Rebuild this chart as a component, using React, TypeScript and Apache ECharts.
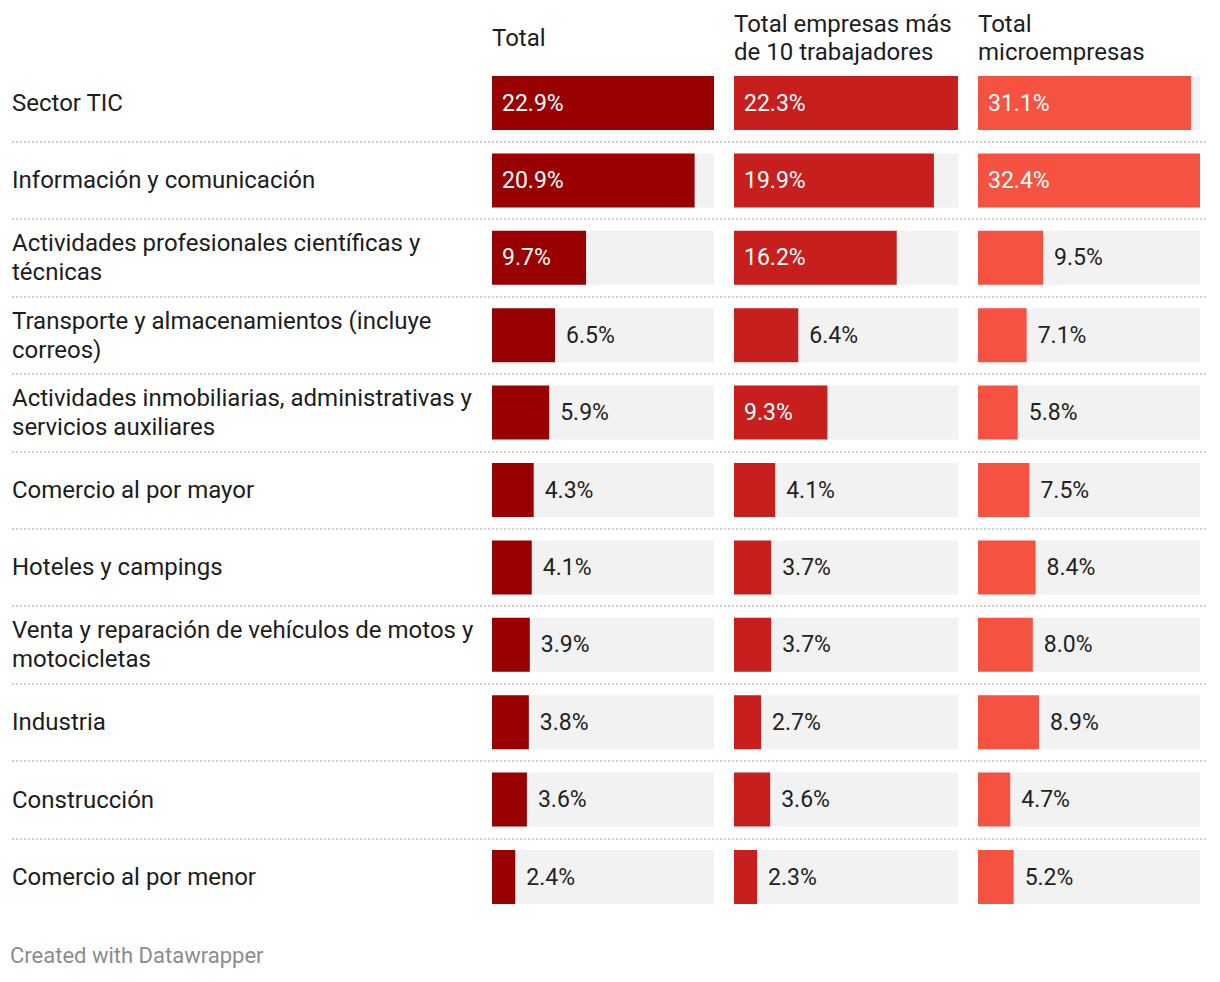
import React, { useEffect, useRef } from "react";
import * as echarts from "echarts";

const categories = [
  "Sector TIC",
  "Información y comunicación",
  "Actividades profesionales científicas y técnicas",
  "Transporte y almacenamientos (incluye correos)",
  "Actividades inmobiliarias, administrativas y servicios auxiliares",
  "Comercio al por mayor",
  "Hoteles y campings",
  "Venta y reparación de vehículos de motos y motocicletas",
  "Industria",
  "Construcción",
  "Comercio al por menor",
];

const totalValues = [22.9, 20.9, 9.7, 6.5, 5.9, 4.3, 4.1, 3.9, 3.8, 3.6, 2.4];
const bigCompanyValues = [22.3, 19.9, 16.2, 6.4, 9.3, 4.1, 3.7, 3.7, 2.7, 3.6, 2.3];
const microValues = [31.1, 32.4, 9.5, 7.1, 5.8, 7.5, 8.4, 8.0, 8.9, 4.7, 5.2];

const columnHeaders = ["Total", "Total empresas más\nde 10 trabajadores", "Total\nmicroempresas"];
const footerText = "Created with Datawrapper";

const columns = [
  { values: totalValues, color: "#990000", left: 492, width: 222 },
  { values: bigCompanyValues, color: "#c71e1e", left: 734, width: 224 },
  { values: microValues, color: "#f65242", left: 978, width: 222 },
];

const FONT = "Roboto, 'Noto Sans', sans-serif";
const GRID_TOP = 64.3;
const GRID_HEIGHT = 851.4;

export default function App() {
  const ref = useRef<HTMLDivElement>(null);

  useEffect(() => {
    if (!ref.current) return;
    const chart = echarts.init(ref.current, undefined, { renderer: "svg" });

    const grids: any[] = [
      { left: 12, width: 1195, top: GRID_TOP, height: GRID_HEIGHT, containLabel: false },
    ];
    const xAxes: any[] = [
      { gridIndex: 0, type: "value", show: false, min: 0, max: 1 },
    ];
    const yAxes: any[] = [
      {
        gridIndex: 0,
        type: "category",
        data: categories,
        inverse: true,
        axisLine: { show: false },
        axisTick: { show: false },
        axisLabel: {
          align: "left",
          margin: 0,
          color: "#1d1d1d",
          fontFamily: FONT,
          fontSize: 24,
          lineHeight: 29,
          width: 502,
          overflow: "break",
          interval: 0,
        },
        splitLine: {
          show: true,
          interval: 0,
          showMinLine: false,
          showMaxLine: false,
          lineStyle: { color: "#cfcfcf", width: 2, type: [2, 2] },
        },
      },
    ];
    const series: any[] = [];

    columns.forEach((col, i) => {
      const gi = i + 1;
      const max = Math.max(...col.values);
      grids.push({ left: col.left, width: col.width, top: GRID_TOP, height: GRID_HEIGHT });
      xAxes.push({ gridIndex: gi, type: "value", min: 0, max, show: false });
      yAxes.push({
        gridIndex: gi,
        type: "category",
        data: categories,
        inverse: true,
        show: false,
      });
      series.push({
        type: "bar",
        xAxisIndex: gi,
        yAxisIndex: gi,
        barWidth: 54,
        showBackground: true,
        backgroundStyle: { color: "#f2f2f2" },
        itemStyle: { color: col.color },
        data: col.values.map((v) => {
          const inside = v / max > 0.35;
          return {
            value: v,
            label: {
              show: true,
              position: inside ? "insideLeft" : "right",
              distance: inside ? 10 : 11,
              color: inside ? "#ffffff" : "#222222",
              fontFamily: FONT,
              fontSize: 23,
              formatter: (p: any) => p.value.toFixed(1) + "%",
            },
          };
        }),
      });
    });

    const graphics: any[] = columnHeaders.map((h, i) => {
      const lines = h.split("\n").length;
      return {
        type: "text",
        left: columns[i].left,
        top: lines === 1 ? 24 : 10,
        style: {
          text: h,
          fill: "#1d1d1d",
          font: `24px ${FONT}`,
          lineHeight: 28,
        },
      };
    });
    graphics.push({
      type: "text",
      left: 10,
      top: 944,
      style: { text: footerText, fill: "#8c8c8c", font: `22px ${FONT}` },
    });

    chart.setOption({
      animation: false,
      backgroundColor: "#ffffff",
      grid: grids,
      xAxis: xAxes,
      yAxis: yAxes,
      series,
      graphic: graphics,
    });

    return () => chart.dispose();
  }, []);

  return <div ref={ref} style={{ width: 1220, height: 982, position: "absolute", left: 0, top: 0 }} />;
}
